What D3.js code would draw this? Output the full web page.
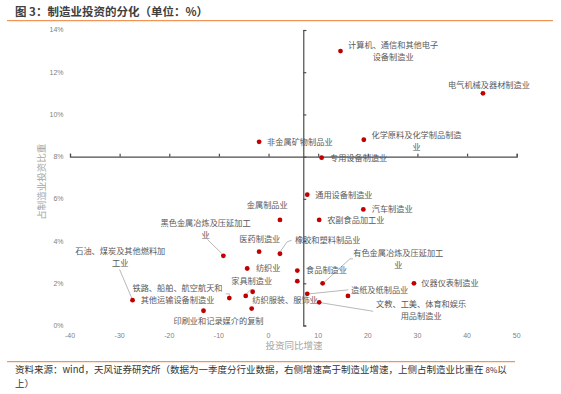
<!DOCTYPE html>
<html>
<head>
<meta charset="utf-8">
<script src="https://cdn.jsdelivr.net/npm/d3@7"></script>
<style>
  body { margin: 0; background: #fff; }
  svg { display: block; }
</style>
</head>
<body>
<script>
// industries, Q1 investment growth (%) and share of manufacturing investment (%)
const industries = [
  '计算机、通信和其他电子设备制造业', '电气机械及器材制造业', '化学原料及化学制品制造业',
  '非金属矿物制品业', '专用设备制造业', '通用设备制造业', '汽车制造业', '农副食品加工业',
  '金属制品业', '医药制造业', '橡胶和塑料制品业', '黑色金属冶炼及压延加工业',
  '石油、煤炭及其他燃料加工业', '铁路、船舶、航空航天和其他运输设备制造业', '纺织业',
  '食品制造业', '', '有色金属冶炼及压延加工业', '纺织服装、服饰业', '家具制造业',
  '造纸及纸制品业', '', '文教、工美、体育和娱乐用品制造业', '', '印刷业和记录媒介的复制',
  '仪器仪表制造业'
]
const growth = [14.5, 43.2, 19.2, -1.9, 10.7, 7.8, 19.1, 10.2, 2.3, -1.9, 2.3, -9.1,
  -27.4, -7.9, -4.3, 5.8, 5.8, 10.9, -3.2, -4.6, 7.8, 16.0, 10.2, -3.4, -13.1, 29.3]
const share = [13.0, 11.0, 8.8, 8.7, 7.95, 6.2, 5.5, 5.0, 5.0, 3.5, 3.4, 3.3,
  1.2, 1.3, 2.7, 2.6, 2.1, 2.0, 1.6, 1.4, 1.5, 1.4, 1.1, 0.8, 0.7, 2.0]

const xTicks = [-40, -30, -20, -10, 0, 10, 20, 30, 40, 50]
const yTicks = [0, 2, 4, 6, 8, 10, 12, 14]
const crossX = 7   // manufacturing growth, vertical divider
const crossY = 8   // share threshold, horizontal divider

// label placement: [dx, dy, anchor, leader points] relative to the dot (px)
const labelLayout = [
  [52.6, -6, 'middle'], [6, -8, 'middle'], [52.7, -4.7, 'middle'],
  [8, 0, 'start'], [8.3, 0, 'start'], [8, 0, 'start'], [8.4, 0, 'start'], [8, 0, 'start'],
  [-12.7, -14.7, 'middle'], [0.7, -12.7, 'middle'],
  [15, -13.4, 'start', [[0.7, -2.7], [7.3, -12], [11.7, -13.4]]],
  [-17.8, -33, 'middle', [[-1.6, -2.4], [-16, -16.4]]],
  [-12.3, -49.3, 'middle', [[-0.6, -1.7], [-13, -30.7]]],
  [-51.8, -10, 'middle', [[-3.5, -4.2], [0, -4.2], [0, -1.7]]],
  [8.7, 0, 'start'], [8.7, 0, 'start'], null,
  [75.6, -30, 'middle', [[2.3, -1.7], [27.3, -24.4], [30.3, -24.4]]],
  [-0.4, 8, 'start'],
  [6, -15, 'middle', [[0.5, -1.7], [5.3, -6.7]]],
  [43.7, -4, 'start', [[2, 0], [41, -4]]],
  null,
  [102, 2.3, 'middle', [[2, 0.5], [54, 9]]],
  null,
  [15, 10.4, 'middle'],
  [7.3, 0, 'start']
]

const width = 561
const height = 394
const cjk = '"Noto Sans CJK SC", "Noto Sans", sans-serif'
const num = '"Liberation Sans", Arial, sans-serif'

const svg = d3.select('body').append('svg')
    .attr('width', width)
    .attr('height', height)

const x = d3.scaleLinear().domain([-40, 50]).range([70, 516.7])
const y = d3.scaleLinear().domain([0, 14]).range([325.5, 30])

// title + rules
svg.append('text')
    .attr('x', 15).attr('y', 15.5)
    .attr('font-family', cjk).attr('font-size', 11.5).attr('font-weight', 'bold')
    .attr('fill', '#404040')
    .text('图 3：制造业投资的分化（单位：%）')

svg.append('line')
    .attr('x1', 7).attr('x2', 553).attr('y1', 20.7).attr('y2', 20.7)
    .attr('stroke', '#ED7D31').attr('stroke-width', 1)

svg.append('line')
    .attr('x1', 7).attr('x2', 515).attr('y1', 361.7).attr('y2', 361.7)
    .attr('stroke', '#ED7D31').attr('stroke-width', 1)

// axes crossing at (crossX, crossY)
svg.append('g')
    .attr('transform', `translate(0,${y(crossY)})`)
    .call(d3.axisTop(x).tickValues(xTicks).tickSize(3).tickSizeOuter(3).tickFormat(''))
    .call(g => g.selectAll('path, line').attr('stroke', '#4d4d4d').attr('stroke-width', 1.2))

svg.append('g')
    .attr('transform', `translate(${x(crossX)},0)`)
    .call(d3.axisRight(y).tickValues(yTicks).tickSize(3).tickSizeOuter(3).tickFormat(''))
    .call(g => g.selectAll('path, line').attr('stroke', '#4d4d4d').attr('stroke-width', 1.2))

// tick labels sit at the low edge of the plot
svg.append('g').selectAll('text')
  .data(yTicks)
  .join('text')
    .attr('x', 63.5).attr('y', d => y(d))
    .attr('dy', '0.35em').attr('text-anchor', 'end')
    .attr('font-family', num).attr('font-size', 7).attr('fill', '#7f7f7f')
    .text(d => d + '%')

svg.append('g').selectAll('text')
  .data(xTicks)
  .join('text')
    .attr('x', d => x(d)).attr('y', 336)
    .attr('dy', '0.35em').attr('text-anchor', 'middle')
    .attr('font-family', num).attr('font-size', 7).attr('fill', '#7f7f7f')
    .text(d => d)

// axis titles
svg.append('text')
    .attr('x', 294).attr('y', 346).attr('dy', '0.35em')
    .attr('text-anchor', 'middle')
    .attr('font-family', cjk).attr('font-size', 9.5).attr('fill', '#a6a6a6')
    .text('投资同比增速')

svg.append('text')
    .attr('transform', 'translate(41.7,181.7) rotate(-90)')
    .attr('dy', '0.35em').attr('text-anchor', 'middle')
    .attr('font-family', cjk).attr('font-size', 9.5).attr('fill', '#a6a6a6')
    .text('占制造业投资比重')

const data = industries.map((name, i) => ({name, gx: growth[i], sh: share[i], lay: labelLayout[i]}))

// leader lines
const line = d3.line()
svg.append('g').selectAll('path')
  .data(data.filter(d => d.lay && d.lay[3]))
  .join('path')
    .attr('d', d => line(d.lay[3].map(p => [x(d.gx) + p[0], y(d.sh) + p[1]])))
    .attr('fill', 'none').attr('stroke', '#a6a6a6').attr('stroke-width', 0.8)

// points
svg.append('g').selectAll('circle')
  .data(data)
  .join('circle')
    .attr('cx', d => x(d.gx)).attr('cy', d => y(d.sh))
    .attr('r', 2.4).attr('fill', '#C00000')

// data labels, wrapped at 11 characters like the original
const labels = svg.append('g').selectAll('text')
  .data(data.filter(d => d.name && d.lay))
  .join('text')
    .attr('font-family', cjk).attr('font-size', 8.2).attr('fill', '#595959')
    .attr('text-anchor', d => d.lay[2])
    .attr('x', d => x(d.gx) + d.lay[0])
    .attr('y', d => y(d.sh) + d.lay[1])

labels.each(function (d) {
  let parts = d.name.length > 11 ? [d.name.slice(0, 11), d.name.slice(11)] : [d.name]
  d3.select(this).selectAll('tspan')
    .data(parts)
    .join('tspan')
      .attr('x', x(d.gx) + d.lay[0])
      .attr('dy', (p, i) => i === 0 ? '0.35em' : 12)
      .text(p => p)
})

// source note
const note = svg.append('text')
    .attr('font-family', cjk).attr('font-size', 9.5).attr('fill', '#333')
note.append('tspan').attr('x', 15).attr('y', 372.5)
    .text('资料来源：wind，天风证券研究所（数据为一季度分行业数据，右侧增速高于制造业增速，上侧占制造业比重在 ')
note.append('tspan').attr('font-size', 8).text('8%')
note.append('tspan').text('以')
note.append('tspan').attr('x', 15).attr('y', 386.5)
    .text('上）')
</script>
</body>
</html>
